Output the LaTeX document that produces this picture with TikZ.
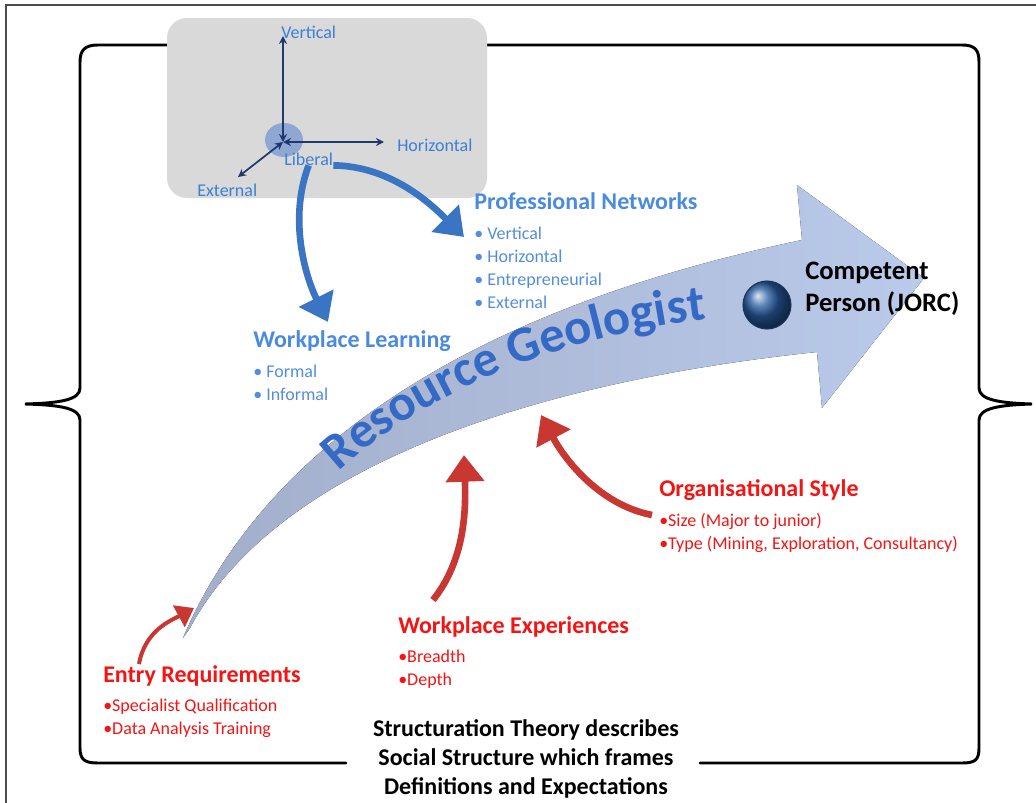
\documentclass[tikz,border=0pt]{standalone}
\usepackage{fontspec}
\setmainfont{Carlito}
\usetikzlibrary{arrows.meta,positioning,decorations.text}

\definecolor{boxgrey}{RGB}{217,217,217}
\definecolor{axisnavy}{RGB}{31,56,110}
\definecolor{axistext}{RGB}{60,128,214}
\definecolor{libcircle}{RGB}{130,160,210}
\definecolor{headblue}{RGB}{74,139,223}
\definecolor{listblue}{RGB}{84,141,222}
\definecolor{bluearr}{RGB}{58,117,196}
\definecolor{redtext}{RGB}{245,20,20}
\definecolor{redarr}{RGB}{200,55,50}
\definecolor{bandleft}{RGB}{162,174,202}
\definecolor{bandright}{RGB}{186,202,234}
\definecolor{geoblue}{RGB}{52,106,198}
\definecolor{ballblue}{RGB}{40,90,160}

\newcommand\geofont{\bfseries\fontsize{38}{38}\selectfont}

\begin{document}
\begin{tikzpicture}[x=0.75pt,y=-0.75pt,line cap=round,
  txt/.style={inner sep=0pt,anchor=base west},
  axis label/.style={txt,font=\fontsize{13.5}{16}\selectfont,text=axistext},
  blue head/.style={txt,font=\bfseries\fontsize{18}{21}\selectfont,text=headblue},
  blue list/.style={inner sep=0pt,anchor=north west,align=left,font=\fontsize{13.5}{17.25}\selectfont,text=listblue},
  red head/.style={txt,font=\bfseries\fontsize{18}{21}\selectfont,text=redtext},
  red list/.style={inner sep=0pt,anchor=north west,align=left,font=\fontsize{13.5}{17.25}\selectfont,text=redtext},
  axis/.style={{Stealth[length=6pt,width=6pt]}-{Stealth[length=6pt,width=6pt]},draw=axisnavy,line width=1.3pt},
  blue arrow/.style={-{Triangle[width=28pt,length=20pt]},draw=bluearr,line width=5pt,line cap=butt},
  red arrow/.style={-{Triangle[width=28pt,length=20pt]},draw=redarr,line width=5pt,line cap=butt},
  small red arrow/.style={red arrow,-{Triangle[width=18pt,length=13pt]},line width=3pt},
  brace/.style={draw=black,line width=2.2pt}]
\useasboundingbox (0,0) rectangle (1036,803);

% frame and braces
\draw[line width=0.8pt,black!70] (6,5) rectangle (1050,820);
\draw[brace] (170,45) -- (98,45) .. controls (85,45) and (80,50) .. (80,62) -- (80,388)
  .. controls (80,400) and (60,403) .. (25,404) .. controls (60,405) and (80,408) .. (80,420)
  -- (80,748) .. controls (80,760) and (85,763) .. (98,763) -- (346,763);
\draw[brace] (487,45) -- (962,45) .. controls (975,45) and (979,50) .. (979,62) -- (979,388)
  .. controls (979,400) and (1000,403) .. (1032,404) .. controls (1000,405) and (979,408) .. (979,420)
  -- (979,748) .. controls (979,760) and (975,763) .. (962,763) -- (700,763);

% network axes
\fill[boxgrey,rounded corners=15pt] (167,18) rectangle (487,198);
\coordinate (o) at (283,142);
\coordinate (vt) at (283,36);
\coordinate (ht) at (384,142);
\coordinate (et) at (238,177);
\fill[libcircle,opacity=0.85] (284,140) ellipse [x radius=19, y radius=17];
\draw[axis] (o) -- (vt);
\draw[axis] (o) -- (ht);
\draw[axis] (o) -- (et);
\node[axis label] (vert) at (281,38) {Vertical};
\node[axis label] (horiz) at (397,151) {Horizontal};
\node[axis label] (lib) at (284,165) {Liberal};
\node[axis label] (ext) at (197,196) {External};

\coordinate (pnend) at (464,237);
\coordinate (wlend) at (328,322);
\draw[blue arrow] (lib.south east) .. controls (390,166) and (430,203) .. (pnend);
\draw[blue arrow] (lib.south) .. controls (288,220) and (306,278) .. (wlend);

% career arrow
\fill[left color=bandleft,right color=bandright]
  (183,638) .. controls (250,480) and (420,320) .. (802,240) -- (797,185) -- (924,278)
  -- (822,408) -- (817,352) .. controls (550,380) and (280,460) .. (190,628) -- cycle;
\path[decorate,decoration={text along path,text={|\geofont|Resource Geologist},
  text align=center,text color=geoblue}] (332,478) .. controls (415,397) and (560,334) .. (716,318);
\node[circle,minimum size=36pt,ball color=ballblue,draw=ballblue!60!black,line width=0.8pt] (dot) at (767,305) {};
\node[inner sep=0pt,anchor=west,align=left,font=\bfseries\fontsize{20}{24}\selectfont] (cp) at (805,289) {Competent\\Person (JORC)};

% blue influences
\node[blue head] (pnhead) at (474,209) {Professional Networks};
\node[below=13.2pt of pnhead.base west,blue list] (pnlist) {• Vertical\\• Horizontal\\• Entrepreneurial\\• External};
\node[blue head] (wlhead) at (253,347) {Workplace Learning};
\node[below=13.2pt of wlhead.base west,blue list] (wllist) {• Formal\\• Informal};

% red influences
\node[red head] (oshead) at (659,496) {Organisational Style};
\node[below=12.5pt of oshead.base west,red list] (oslist) {•Size (Major to junior)\\•Type (Mining, Exploration, Consultancy)};
\node[red head] (wehead) at (398,633) {Workplace Experiences};
\node[below=12.5pt of wehead.base west,red list] (welist) {•Breadth\\•Depth};
\node[red head] (erhead) at (103,682) {Entry Requirements};
\node[below=12.5pt of erhead.base west,red list] (erlist) {•Specialist Qualification\\•Data Analysis Training};

\coordinate (ertail) at (139,664);
\coordinate (ertip) at (194,608);
\coordinate (wetail) at (433,600);
\coordinate (wetip) at (464,455);
\coordinate (ostail) at (652,515);
\coordinate (ostip) at (541,415);
\draw[small red arrow] (ertail) .. controls (145,630) and (172,620) .. (ertip);
\draw[red arrow] (wetail) .. controls (465,560) and (466,510) .. (wetip);
\draw[red arrow] (ostail) .. controls (600,505) and (565,460) .. (ostip);

\node[inner sep=0pt,anchor=north,align=center,font=\bfseries\fontsize{18}{21.75}\selectfont] (st) at (526,719)
  {Structuration Theory describes\\Social Structure which frames\\Definitions and Expectations};
\end{tikzpicture}
\end{document}
